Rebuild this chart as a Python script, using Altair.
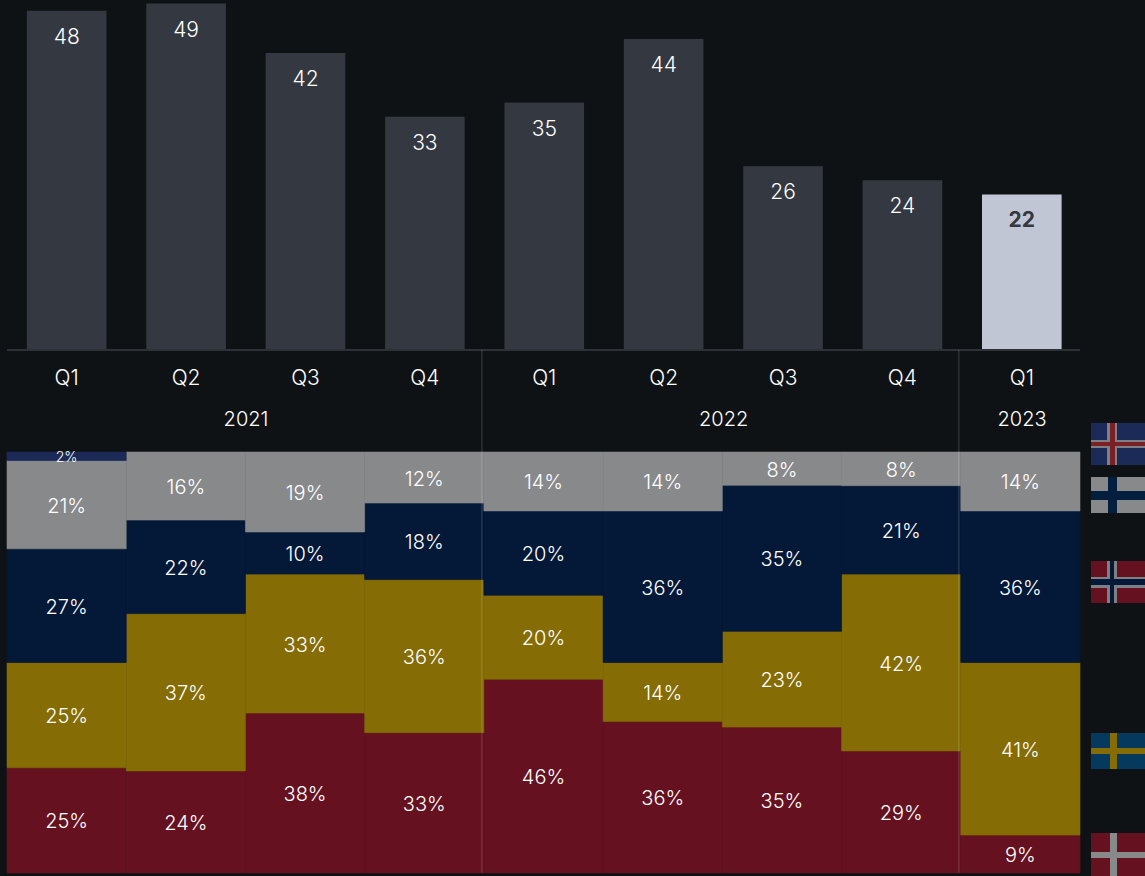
import altair as alt
import pandas as pd

# Quarterly totals
periods = ["2021 Q1", "2021 Q2", "2021 Q3", "2021 Q4", "2022 Q1", "2022 Q2", "2022 Q3", "2022 Q4", "2023 Q1"]
totals = [48, 49, 42, 33, 35, 44, 26, 24, 22]

# Country shares per quarter, in percent
denmark = [25, 24, 38, 33, 46, 36, 35, 29, 9]
sweden = [25, 37, 33, 36, 20, 14, 23, 42, 41]
norway = [27, 22, 10, 18, 20, 36, 35, 21, 36]
finland = [21, 16, 19, 12, 14, 14, 8, 8, 14]
iceland = [2, None, None, None, None, None, None, None, None]

years = ["2021", "2022", "2023"]
year_centres = [2, 6, 8.5]
year_breaks = [4, 8]

BG = "#0f1215"
BAR = "#343840"
LATEST = "#c1c6d4"
TEXT = "#ffffff"
RED = "#65111f"
GOLD = "#856c05"
NAVY = "#041838"
GREY = "#88898b"
BLUE = "#1b2a56"
SEA = "#053a5e"
FONT = "Inter"

WIDTH, HEIGHT = 1145, 876
AXIS_Y = 350
STACK_TOP, STACK_BOTTOM = 452, 873

series = [
    ("Denmark", denmark, RED, 0),
    ("Sweden", sweden, GOLD, 1),
    ("Norway", norway, NAVY, 2),
    ("Finland", finland, GREY, 3),
    ("Iceland", iceland, BLUE, 4),
]
shares = pd.DataFrame(
    [
        {"period": p, "country": name, "share": v, "colour": colour, "rank": rank}
        for name, values, colour, rank in series
        for p, v in zip(periods, values)
        if v is not None
    ]
)
quarters = pd.DataFrame({"period": periods, "total": totals})
quarters["latest"] = quarters["period"] == periods[-1]
year_table = pd.DataFrame({"year": years, "centre": year_centres})
breaks = pd.DataFrame({"at": year_breaks})
baseline_span = pd.DataFrame({"start": [0], "end": [9]})

# Flags: each band is one rectangle, drawn back to front
flag_bands = pd.DataFrame(
    [
        # Iceland
        (1091, 1145, 423, 465, BLUE),
        (1107, 1117, 423, 465, "#7f8086"),
        (1091, 1145, 440, 448, "#7f8086"),
        (1110, 1115, 423, 465, "#7a2026"),
        (1091, 1145, 442, 446, "#7a2026"),
        # Finland
        (1091, 1145, 477, 513, GREY),
        (1108, 1117, 477, 513, "#041f3e"),
        (1091, 1145, 491, 500, "#041f3e"),
        # Norway
        (1091, 1145, 561, 603, RED),
        (1107, 1117, 561, 603, "#7f8086"),
        (1091, 1145, 577, 588, "#7f8086"),
        (1110, 1114, 561, 603, NAVY),
        (1091, 1145, 579, 585, NAVY),
        # Sweden
        (1091, 1145, 733, 769, SEA),
        (1110, 1117, 733, 769, GOLD),
        (1091, 1145, 748, 754, GOLD),
        # Denmark
        (1091, 1145, 833, 876, RED),
        (1110, 1117, 833, 876, GREY),
        (1091, 1145, 852, 858, GREY),
    ],
    columns=["x0", "x1", "y0", "y1", "fill"],
)

band_top = alt.X(
    "period:N",
    sort=periods,
    scale=alt.Scale(domain=periods, range=[7, 1081.5], paddingInner=0.333, paddingOuter=0.1665),
    axis=alt.Axis(
        title=None,
        orient="bottom",
        offset=AXIS_Y - HEIGHT,
        labelExpr="slice(datum.label, -2)",
        labelAngle=0,
        labelColor=TEXT,
        labelFont=FONT,
        labelFontSize=21,
        labelFontWeight=300,
        labelPadding=17,
        ticks=False,
        grid=False,
        domain=False,
    ),
)
band_top_plain = alt.X(
    "period:N",
    sort=periods,
    scale=alt.Scale(domain=periods, range=[7, 1081.5], paddingInner=0.333, paddingOuter=0.1665),
    axis=None,
)
total_y = alt.Y(
    "total:Q",
    scale=alt.Scale(domain=[0, AXIS_Y / 7.07], range=[AXIS_Y, 0], nice=False),
    axis=None,
)

bars = (
    alt.Chart(quarters)
    .mark_bar()
    .encode(
        x=band_top,
        y=total_y,
        color=alt.condition(alt.datum.latest, alt.value(LATEST), alt.value(BAR)),
    )
)
bar_labels = (
    alt.Chart(quarters[~quarters["latest"]])
    .mark_text(font=FONT, fontSize=21, fontWeight=300, baseline="middle", dy=27, color=TEXT)
    .encode(x=band_top_plain, y=total_y, text="total:Q")
)
latest_label = (
    alt.Chart(quarters[quarters["latest"]])
    .mark_text(font=FONT, fontSize=21, fontWeight=700, baseline="middle", dy=27, color=BAR)
    .encode(x=band_top_plain, y=total_y, text="total:Q")
)

span_x = alt.Scale(domain=[0, 9], range=[7, 1080], nice=False)
baseline = (
    alt.Chart(baseline_span)
    .mark_rule(color="#2e3238", strokeWidth=2)
    .encode(
        x=alt.X("start:Q", scale=span_x, axis=None),
        x2="end:Q",
        y=alt.value(AXIS_Y),
    )
)

year_x = alt.X("centre:Q", scale=alt.Scale(domain=[0, 9], range=[7.2, 1081.8], nice=False), axis=None)
year_labels = (
    alt.Chart(year_table)
    .mark_text(font=FONT, fontSize=20, fontWeight=300, baseline="middle", color=TEXT)
    .encode(x=year_x, y=alt.value(420), text="year:N")
)

stack_x = alt.X(
    "period:N",
    sort=periods,
    scale=alt.Scale(domain=periods, range=[7, 1080], paddingInner=0, paddingOuter=0),
    axis=None,
)
stack_scale = alt.Scale(domain=[0, 1], range=[STACK_BOTTOM, STACK_TOP], nice=False)
stacked = alt.Chart(shares).transform_stack(
    stack="share",
    as_=["low", "high"],
    groupby=["period"],
    offset="normalize",
    sort=[alt.SortField("rank", order="ascending")],
)
segments = stacked.mark_bar(strokeWidth=0.6).encode(
    x=stack_x,
    y=alt.Y("low:Q", scale=stack_scale, axis=None),
    y2="high:Q",
    color=alt.Color("colour:N", scale=None),
    stroke=alt.Stroke("colour:N", scale=None),
)
segment_labels = (
    stacked.transform_calculate(mid="(datum.low + datum.high) / 2", label="datum.share + '%'")
    .mark_text(font=FONT, fontWeight=300, baseline="middle", color=TEXT, dy=2)
    .encode(
        x=stack_x,
        y=alt.Y("mid:Q", scale=stack_scale, axis=None),
        text="label:N",
        size=alt.condition("datum.share < 5", alt.value(14), alt.value(20)),
    )
)

separators = (
    alt.Chart(breaks)
    .mark_rule(color="#ffffff", opacity=0.13, strokeWidth=1.5)
    .encode(
        x=alt.X("at:Q", scale=alt.Scale(domain=[0, 9], range=[5, 1078], nice=False), axis=None),
        y=alt.value(AXIS_Y),
        y2=alt.value(STACK_BOTTOM),
    )
)

flags = (
    alt.Chart(flag_bands)
    .mark_rect()
    .encode(
        x=alt.X("x0:Q", scale=alt.Scale(domain=[0, WIDTH], range=[0, WIDTH], nice=False), axis=None),
        x2="x1:Q",
        y=alt.Y("y0:Q", scale=alt.Scale(domain=[0, HEIGHT], range=[0, HEIGHT], nice=False), axis=None),
        y2="y1:Q",
        color=alt.Color("fill:N", scale=None),
    )
)

chart = (
    alt.layer(bars, baseline, bar_labels, latest_label, year_labels, segments, segment_labels, separators, flags)
    .resolve_scale(x="independent", y="independent", color="independent", stroke="independent")
    .properties(
        width=WIDTH,
        height=HEIGHT,
        background=BG,
        padding=0,
        autosize=alt.AutoSizeParams(type="none"),
    )
    .configure_view(strokeWidth=0)
)

chart.save("out.html", embed_options={"renderer": "svg", "actions": False})
